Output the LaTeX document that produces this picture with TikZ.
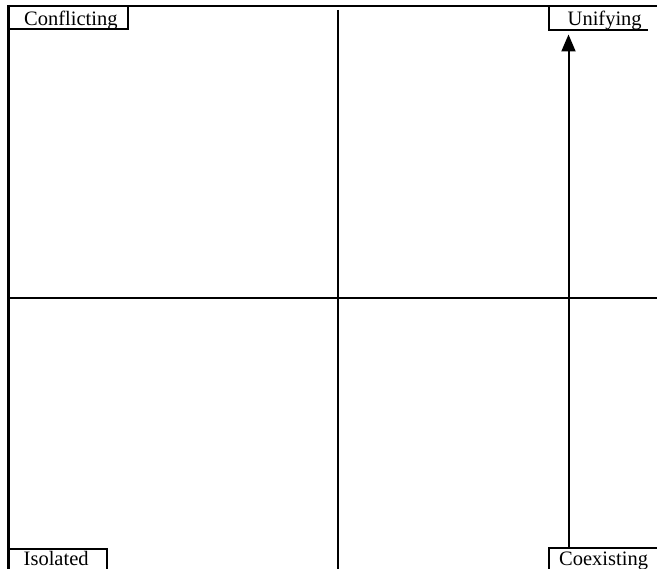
\documentclass[tikz,border=0pt]{standalone}
\usepackage{fontspec}
\setmainfont{Liberation Serif}
\usetikzlibrary{arrows.meta}
\begin{document}
\begin{tikzpicture}[x=1pt,y=-1pt,
  lbl/.style={anchor=base west,inner sep=0pt,font=\fontsize{20.5}{24}\selectfont},
  frameline/.style={line width=2.4pt,draw=black},
  gridline/.style={line width=2pt,draw=black},
  boxedge/.style={line width=2pt,draw=black},
  arr/.style={line width=2pt,-{Triangle[length=17pt,width=14pt]}}]
\useasboundingbox (0,0) rectangle (657,569);
% frame
\draw[frameline] (7.5,6) -- (657,6);
\draw[frameline] (8.5,5) -- (8.5,569);
% quadrant lines
\draw[gridline] (337.5,10) -- (337.5,569);
\draw[gridline] (9.5,298.5) -- (657,298.5);
% labels
\node[lbl] (conf) at (24,26) {Conflicting};
\node[lbl] (unif) at (567.5,25.5) {Unifying};
\node[lbl] (isol) at (23.5,565.7) {Isolated};
\node[lbl] (coex) at (559,565.7) {Coexisting};
% label box edges
\draw[boxedge] (9.5,29.5) -| (128,7);
\draw[boxedge] (549,7) |- (648,30);
\draw[boxedge] (10,549) -| (107,569);
\draw[boxedge] (549,569) |- (657,548.5);
% arrow
\coordinate (abase) at (568.5,548.5);
\coordinate (atip) at (568.5,34.5);
\draw[arr] (abase) -- (atip);
\end{tikzpicture}
\end{document}
